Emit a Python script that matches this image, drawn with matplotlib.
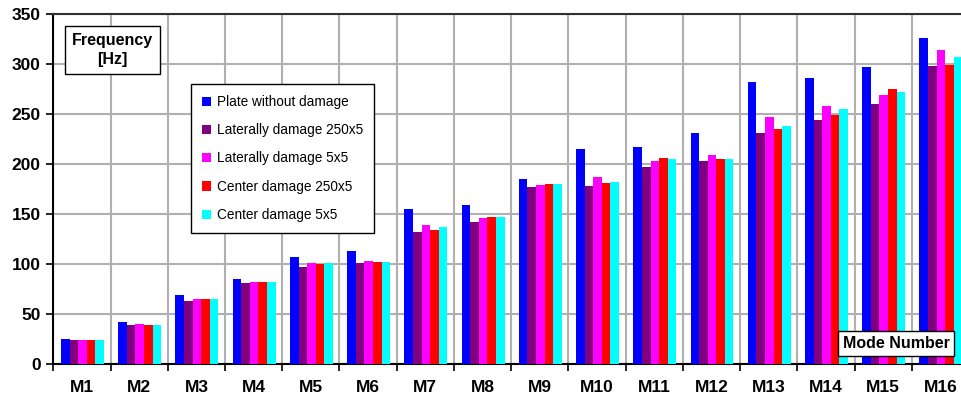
import matplotlib.pyplot as plt
import numpy as np

modes = ['M1', 'M2', 'M3', 'M4', 'M5', 'M6', 'M7', 'M8',
         'M9', 'M10', 'M11', 'M12', 'M13', 'M14', 'M15', 'M16']

plate = [25.5, 42, 69, 85, 107, 113, 155, 159, 185, 215, 217, 231, 282, 286, 297, 326]
lat_250x5 = [24.5, 39, 63, 81, 97, 101, 132, 142, 177, 178, 197, 203, 231, 244, 260, 298]
lat_5x5 = [24.5, 40, 65, 82, 101, 103, 139, 146, 179, 187, 203, 209, 247, 258, 269, 314]
cen_250x5 = [24.5, 39, 65, 82, 100, 102, 134, 147, 180, 181, 206, 205, 235, 249, 275, 299]
cen_5x5 = [24.5, 39, 65, 82, 101, 102, 137, 147, 180, 182, 205, 205, 238, 255, 272, 307]

series = [
    ('Plate without damage', plate, '#0000ff'),
    ('Laterally damage 250x5', lat_250x5, '#800080'),
    ('Laterally damage 5x5', lat_5x5, '#ff00ff'),
    ('Center damage 250x5', cen_250x5, '#ff0000'),
    ('Center damage 5x5', cen_5x5, '#00ffff'),
]

plt.rcParams['font.family'] = ['Liberation Sans', 'DejaVu Sans']

W, H = 961, 401
fig = plt.figure(figsize=(W / 100, H / 100), dpi=100)
left, right, top, bottom = 53.3, 969, 14.3, 364.3
ax = fig.add_axes([left / W, 1 - bottom / H, (right - left) / W, (bottom - top) / H])

x = np.arange(len(modes))
width = 0.15
for i, (label, vals, color) in enumerate(series):
    ax.bar(x + (i - 2) * width + 0.01, vals, width, color=color, label=label, zorder=3)

ax.set_xlim(-0.5, len(modes) - 0.5)
ax.set_ylim(0, 350)
ax.set_yticks(range(0, 351, 50))
ax.set_xticks(x)
ax.set_xticklabels(modes, fontweight='bold', fontsize=12.5)
ax.set_xticks(np.arange(-0.5, len(modes), 1), minor=True)
ax.tick_params(axis='x', which='major', length=0, pad=11)
ax.tick_params(axis='x', which='minor', length=5, width=1.2, direction='out')
ax.tick_params(axis='y', length=5, width=1.2, direction='out', labelsize=12.5, pad=4)
for lbl in ax.get_yticklabels():
    lbl.set_fontweight('bold')

ax.grid(axis='y', which='major', color='#b0b0b0', linewidth=1.5, zorder=0)
ax.grid(axis='x', which='minor', color='#b0b0b0', linewidth=1.5, zorder=0)
ax.set_axisbelow(True)

for side in ['left', 'bottom']:
    ax.spines[side].set_color('black')
    ax.spines[side].set_linewidth(1.5)
ax.spines['top'].set_color('#303030')
ax.spines['top'].set_linewidth(1.5)
ax.spines['right'].set_visible(False)

leg = ax.legend(loc='upper left', bbox_to_anchor=(191 / W, 1 - 84 / H),
                bbox_transform=fig.transFigure, fontsize=9.8, frameon=True,
                fancybox=False, labelspacing=1.05, handlelength=0.65,
                handleheight=0.65, handletextpad=0.45, borderpad=0.8,
                borderaxespad=0)
leg.get_frame().set_edgecolor('black')
leg.get_frame().set_linewidth(1.0)
leg.get_frame().set_alpha(1)
leg.set_zorder(5)

fig.text(112.5 / W, 1 - 50 / H, 'Frequency\n[Hz]', ha='center', va='center',
         fontsize=11.5, fontweight='bold',
         bbox=dict(boxstyle='square,pad=0.45', facecolor='white', edgecolor='black', linewidth=1.0),
         linespacing=1.3, zorder=6)
fig.text(896 / W, 1 - 343.5 / H, 'Mode Number', ha='center', va='center',
         fontsize=11.5, fontweight='bold',
         bbox=dict(boxstyle='square,pad=0.3', facecolor='white', edgecolor='black', linewidth=1.0),
         zorder=6)

fig.savefig('out.png', dpi=100)
